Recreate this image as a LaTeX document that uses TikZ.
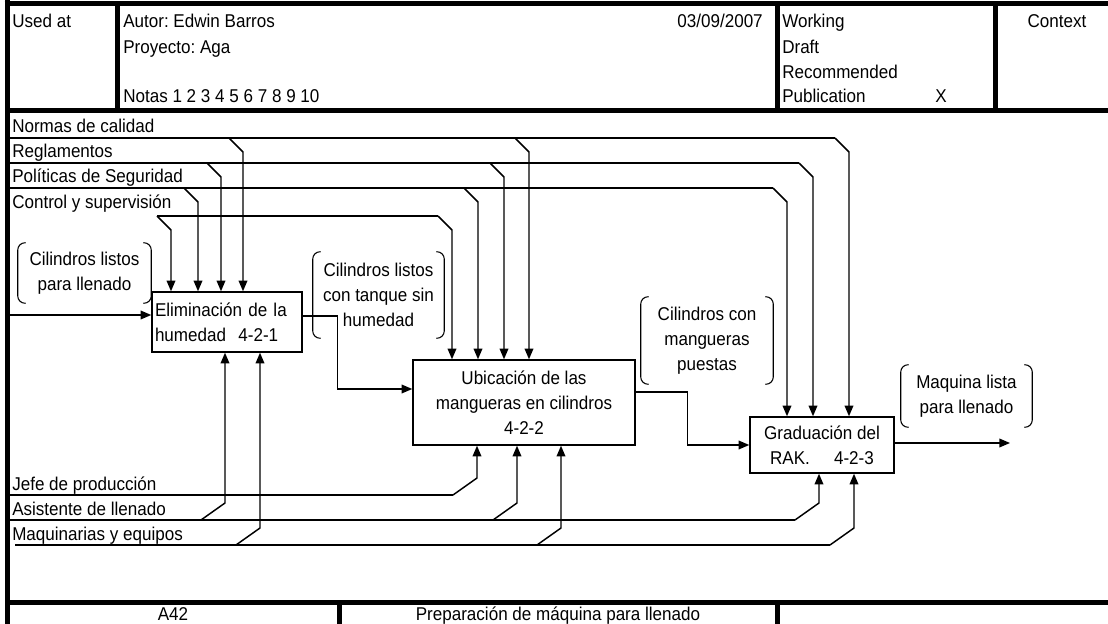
\documentclass[tikz,border=0pt]{standalone}
\usepackage{fontspec}
\setmainfont{Liberation Sans}[FakeStretch=0.92]
\frenchspacing
\usetikzlibrary{arrows.meta,positioning}

\begin{document}
\begin{tikzpicture}[x=0.75pt,y=-0.75pt,
    font=\fontsize{13.9}{18.75}\selectfont,
    frame/.style={line width=3.75pt},
    wire/.style={line width=1.1pt},
    flow/.style={wire,-{Triangle[length=8pt,width=6.5pt]}},
    brk/.style={line width=0.8pt,rounded corners=5.5pt},
    txt/.style={anchor=base west,inner sep=0pt},
    act/.style={draw,line width=1.1pt,inner sep=2.25pt,align=center},
    note/.style={inner sep=0pt,align=center}]

\useasboundingbox (0,0) rectangle (1108,624);

% form
\draw[frame] (4.5,4) -- (1108,4);
\draw[frame] (7,0) -- (7,624);
\draw[frame] (7,111) -- (1108,111);
\draw[frame] (117,4) -- (117,111);
\draw[frame] (777,4) -- (777,111);
\draw[frame] (995,4) -- (995,111);
\draw[frame] (7,602) -- (1108,602);
\draw[frame] (339,602) -- (339,624);
\draw[frame] (777,602) -- (777,624);

% header
\node[txt] (usedat) at (12,28) {Used at};
\node[txt] (autor) at (123,28) {Autor: Edwin Barros};
\node[txt] (proyecto) at (123,54) {Proyecto: Aga};
\node[txt] (notas) at (123,103) {Notas 1 2 3 4 5 6 7 8 9 10};
\node[txt,anchor=base east] (fecha) at (763,28) {03/09/2007};
\node[txt] (working) at (782,28) {Working};
\node[txt] (draft) at (782,54) {Draft};
\node[txt] (recom) at (782,79) {Recommended};
\node[txt] (publi) at (782,103) {Publication};
\node[txt,anchor=base] (marca) at (941,103) {X};
\node[txt,anchor=base] (context) at (1057,28) {Context};
\node[txt,anchor=base] (nodo) at (173,620) {A42};
\node[txt,anchor=base] (titulo) at (558,620) {Preparación de máquina para llenado};

% activities
\node[act,align=left,text width=108pt,minimum height=45pt] (e1) at (227,322)
  {Eliminación de la\\humedad\ \ 4-2-1};
\node[act,minimum width=166.5pt,minimum height=63.75pt] (e2) at (524,402.5)
  {Ubicación de las\\mangueras en cilindros\\4-2-2};
\node[act,minimum width=108pt,minimum height=42pt] (e3) at (822,445)
  {Graduación del\\RAK.\hspace{1.3em}4-2-3};

% controls
\node[txt] (normas) at (12,133) {Normas de calidad};
\node[txt] (regla) at (12,158) {Reglamentos};
\node[txt] (politicas) at (12,183) {Políticas de Seguridad};
\node[txt] (control) at (12,209) {Control y supervisión};

\draw[wire] (7,138) -- (835,138);
\draw[flow] (229,138) -- ++(14,14) -- (243,0 |- e1.north);
\draw[flow] (515,138) -- ++(14,14) -- (529,0 |- e2.north);
\draw[flow] (835,138) -- ++(14,14) -- (849,0 |- e3.north);

\draw[wire] (7,163) -- (799,163);
\draw[flow] (207,163) -- ++(14,14) -- (221,0 |- e1.north);
\draw[flow] (490,163) -- ++(14,14) -- (504,0 |- e2.north);
\draw[flow] (799,163) -- ++(14,14) -- (813,0 |- e3.north);

\draw[wire] (7,188) -- (773,188);
\draw[flow] (184,188) -- ++(14,14) -- (198,0 |- e1.north);
\draw[flow] (464,188) -- ++(14,14) -- (478,0 |- e2.north);
\draw[flow] (773,188) -- ++(14,14) -- (787,0 |- e3.north);

\draw[wire] (157,216) -- (438,216);
\draw[flow] (157,216) -- ++(14,14) -- (171,0 |- e1.north);
\draw[flow] (438,216) -- ++(14,14) -- (452,0 |- e2.north);

% mechanisms
\node[txt] (jefe) at (12,490) {Jefe de producción};
\node[txt] (asist) at (12,515) {Asistente de llenado};
\node[txt] (maq) at (12,540) {Maquinarias y equipos};

\draw[wire] (7,495) -- (453,495);
\draw[flow] (453,495) -- ++(24,-17) -- (477,0 |- e2.south);

\draw[wire] (7,520) -- (795,520);
\draw[flow] (201,520) -- ++(24,-17) -- (225,0 |- e1.south);
\draw[flow] (493,520) -- ++(24,-17) -- (517,0 |- e2.south);
\draw[flow] (795,520) -- ++(24,-17) -- (819,0 |- e3.south);

\draw[wire] (15,545) -- (830,545);
\draw[flow] (236,545) -- ++(24,-17) -- (260,0 |- e1.south);
\draw[flow] (537,545) -- ++(24,-17) -- (561,0 |- e2.south);
\draw[flow] (830,545) -- ++(24,-17) -- (854,0 |- e3.south);

% inputs and outputs
\coordinate (in1) at (7,315);
\coordinate (out3) at (1010,443);
\draw[flow] (in1) -- (e1.west |- in1);
\draw[flow] (e1.east |- 0,316) -- ++(35,0) |- (e2.west |- 0,389);
\draw[flow] (e2.east |- 0,392) -- ++(52,0) |- (e3.west);
\draw[flow] (e3.east |- out3) -- (out3);

% arrow labels
\node[note,minimum width=99.75pt,minimum height=45pt] (n1) at (84.5,273)
  {Cilindros listos\\para llenado};
\node[note,minimum width=98.25pt,minimum height=64.5pt] (n2) at (378.5,295)
  {Cilindros listos\\con tanque sin\\humedad};
\node[note,minimum width=99pt,minimum height=65.25pt] (n3) at (707,340.5)
  {Cilindros con\\mangueras\\puestas};
\node[note,minimum width=98.25pt,minimum height=46.5pt] (n4) at (966.5,396)
  {Maquina lista\\para llenado};

\foreach \n in {n1,n2,n3,n4}{
  \draw[brk] ([xshift=6pt]\n.north west) -- (\n.north west) -- (\n.south west) -- ([xshift=6pt]\n.south west);
  \draw[brk] ([xshift=-6pt]\n.north east) -- (\n.north east) -- (\n.south east) -- ([xshift=-6pt]\n.south east);
}
\end{tikzpicture}
\end{document}
